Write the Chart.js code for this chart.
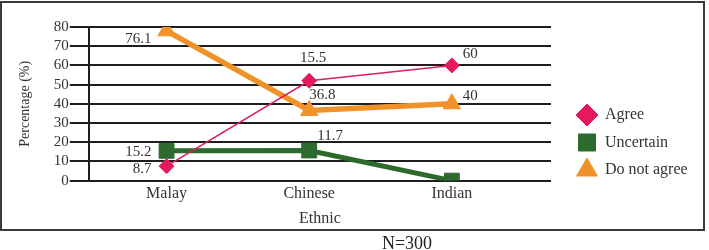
<!DOCTYPE html>
<html>
<head>
<meta charset="utf-8">
<script src="https://cdn.jsdelivr.net/npm/chart.js@4.4.1/dist/chart.umd.min.js"></script>
<style>
  body { margin: 0; background: #fff; }
  #wrap { position: relative; width: 709px; height: 250px; overflow: hidden; }
  #frame { position: absolute; left: 0; top: 1px; width: 701px; height: 226px; border: 2px solid #3a3a3a; }
  #chart { position: absolute; left: 0; top: 0; }
  #note { position: absolute; left: 347px; top: 234px; width: 120px; text-align: center;
          font: 18px/18px "Liberation Serif", serif; color: #222; }
</style>
</head>
<body>
<div id="wrap">
  <div id="frame"></div>
  <canvas id="chart" width="709" height="250"></canvas>
  <div id="note">N=300</div>
</div>
<script>
// categories and values
const categories = ['Malay', 'Chinese', 'Indian'];
const seriesNames = ['Agree', 'Uncertain', 'Do not agree'];
const agree = [7.5, 52, 60];
const uncertain = [15.5, 15.7, 0];
const doNotAgree = [78, 36.5, 40];
// printed value labels (as they appear in the figure)
const agreeLabels = ['8.7', '15.5', '60'];
const uncertainLabels = ['15.2', '11.7', ''];
const doNotAgreeLabels = ['76.1', '36.8', '40'];
const yTicks = [0, 10, 20, 30, 40, 50, 60, 70, 80];

const SERIF = '"Liberation Serif", "Times New Roman", serif';
const TEXT = '#333';
const LINE = '#1e1e1e';

// where each printed label sits relative to its point: [dx, dy, align]
const labelPlacement = [
  [[-15, 3, 'right'], [4, -23, 'center'], [11, -11, 'left']],
  [[-15, 1, 'right'], [8, -14, 'left'], [0, 0, 'left']],
  [[-15, 8, 'right'], [0, -15, 'left'], [11, -8, 'left']]
];
const labelSets = [agreeLabels, uncertainLabels, doNotAgreeLabels];

const valueLabels = {
  id: 'valueLabels',
  afterDatasetsDraw(chart) {
    const ctx = chart.ctx;
    ctx.save();
    ctx.font = '15px ' + SERIF;
    ctx.fillStyle = TEXT;
    ctx.textBaseline = 'middle';
    chart.data.datasets.forEach((ds, d) => {
      chart.getDatasetMeta(d).data.forEach((pt, i) => {
        const txt = labelSets[d][i];
        if (!txt) return;
        const [dx, dy, align] = labelPlacement[d][i];
        ctx.textAlign = align;
        ctx.fillText(txt, pt.x + dx, pt.y + dy);
      });
    });
    ctx.restore();
  }
};

// legend drawn to the right of the plot, markers like the figure
const legendRadius = [11, 12, 12];
const sideLegend = {
  id: 'sideLegend',
  afterDraw(chart) {
    const ctx = chart.ctx;
    const area = chart.chartArea;
    ctx.save();
    ctx.font = '16px ' + SERIF;
    ctx.textBaseline = 'middle';
    ctx.textAlign = 'left';
    chart.data.datasets.forEach((ds, i) => {
      const x = area.right + 36;
      const y = area.top + 88 + i * 27.5;
      ctx.fillStyle = ds.pointBackgroundColor;
      ctx.strokeStyle = ds.pointBackgroundColor;
      ctx.lineWidth = 1;
      Chart.helpers.drawPoint(ctx, { pointStyle: ds.pointStyle, radius: legendRadius[i], rotation: 0, borderWidth: 1 }, x, y);
      ctx.fillStyle = TEXT;
      ctx.fillText(ds.label, x + 18, y);
    });
    ctx.restore();
  }
};

const toPoints = arr => arr.map((v, i) => ({ x: i, y: v }));

new Chart(document.getElementById('chart'), {
  type: 'line',
  data: {
    datasets: [
      {
        label: seriesNames[0], data: toPoints(agree),
        borderColor: '#dc1f5c', borderWidth: 1.5, backgroundColor: '#e5195e',
        pointStyle: 'rectRot', pointRadius: 7.5, pointBackgroundColor: '#e5195e',
        pointBorderColor: '#e5195e', pointBorderWidth: 1, tension: 0
      },
      {
        label: seriesNames[1], data: toPoints(uncertain),
        borderColor: '#2c6a2e', borderWidth: 5, backgroundColor: '#2c6a2e',
        pointStyle: 'rect', pointRadius: 10.5, pointBackgroundColor: '#2c6a2e',
        pointBorderColor: '#2c6a2e', pointBorderWidth: 1, tension: 0
      },
      {
        label: seriesNames[2], data: toPoints(doNotAgree),
        borderColor: '#f0922a', borderWidth: 5.5, backgroundColor: '#f0922a',
        pointStyle: 'triangle', pointRadius: 10, pointBackgroundColor: '#f0922a',
        pointBorderColor: '#f0922a', pointBorderWidth: 1, tension: 0
      }
    ]
  },
  plugins: [valueLabels, sideLegend],
  options: {
    responsive: false,
    animation: false,
    layout: { padding: { left: 8, top: 27, right: 158, bottom: 14 } },
    plugins: {
      legend: { display: false },
      tooltip: { enabled: false }
    },
    scales: {
      x: {
        type: 'linear',
        min: -0.545,
        max: 2.695,
        afterBuildTicks: axis => { axis.ticks = categories.map((c, i) => ({ value: i })); },
        ticks: {
          padding: 4,
          autoSkip: false,
          maxRotation: 0,
          color: TEXT,
          font: { family: SERIF, size: 16 },
          callback: v => categories[v]
        },
        grid: { display: false, drawTicks: false },
        border: { display: false },
        title: {
          display: true, text: 'Ethnic', color: TEXT,
          font: { family: SERIF, size: 16 }, padding: { top: 1, bottom: 8 }
        }
      },
      y: {
        min: 0,
        max: 80,
        afterBuildTicks: axis => { axis.ticks = yTicks.map(v => ({ value: v })); },
        ticks: { padding: 1, autoSkip: false, color: TEXT, font: { family: SERIF, size: 15 } },
        grid: { color: LINE, lineWidth: 2, tickLength: 19 },
        border: { display: true, color: LINE, width: 2 },
        title: {
          display: true, text: 'Percentage (%)', color: TEXT,
          font: { family: SERIF, size: 14 }, padding: { top: 9, bottom: 19 }
        }
      }
    }
  }
});
</script>
</body>
</html>
